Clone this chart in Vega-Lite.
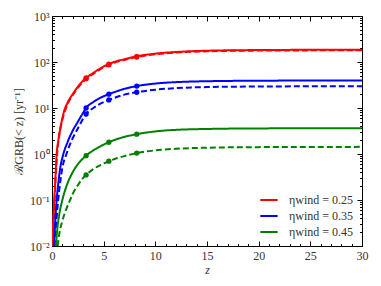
{
  "$schema": "https://vega.github.io/schema/vega-lite/v6.json",
  "autosize": "none",
  "width": 310,
  "height": 230,
  "padding": {"left": 52, "top": 16, "right": 19, "bottom": 40},
  "background": "white",
  "config": {
    "view": {"stroke": "black", "strokeWidth": 1},
    "font": "Liberation Serif",
    "axis": {"domainColor": "black", "tickColor": "black", "labelColor": "#333", "labelFont": "Liberation Serif", "labelFontSize": 12, "grid": false, "titleFont": "Liberation Serif", "titleFontWeight": "normal", "titleColor": "#333"},
    "legend": {"labelFont": "Liberation Serif", "labelFontSize": 12, "labelColor": "#333"}
  },
  "datasets": {
    "curves": [
      {"z": 0.05, "R": 0.01, "eta": "0.25", "kind": "solid"},
      {"z": 0.1, "R": 0.025, "eta": "0.25", "kind": "solid"},
      {"z": 0.22, "R": 0.1, "eta": "0.25", "kind": "solid"},
      {"z": 0.3, "R": 0.22, "eta": "0.25", "kind": "solid"},
      {"z": 0.45, "R": 1.0, "eta": "0.25", "kind": "solid"},
      {"z": 0.6, "R": 1.9, "eta": "0.25", "kind": "solid"},
      {"z": 0.8, "R": 3.6, "eta": "0.25", "kind": "solid"},
      {"z": 1.0, "R": 6, "eta": "0.25", "kind": "solid"},
      {"z": 1.2, "R": 9, "eta": "0.25", "kind": "solid"},
      {"z": 1.5, "R": 13, "eta": "0.25", "kind": "solid"},
      {"z": 2.0, "R": 20, "eta": "0.25", "kind": "solid"},
      {"z": 2.5, "R": 29, "eta": "0.25", "kind": "solid"},
      {"z": 3.0, "R": 39, "eta": "0.25", "kind": "solid"},
      {"z": 3.3, "R": 45, "eta": "0.25", "kind": "solid"},
      {"z": 4.0, "R": 58, "eta": "0.25", "kind": "solid"},
      {"z": 5.0, "R": 80, "eta": "0.25", "kind": "solid"},
      {"z": 5.5, "R": 90, "eta": "0.25", "kind": "solid"},
      {"z": 6.0, "R": 100, "eta": "0.25", "kind": "solid"},
      {"z": 7.0, "R": 115, "eta": "0.25", "kind": "solid"},
      {"z": 8.2, "R": 133, "eta": "0.25", "kind": "solid"},
      {"z": 10, "R": 152, "eta": "0.25", "kind": "solid"},
      {"z": 12, "R": 165, "eta": "0.25", "kind": "solid"},
      {"z": 15, "R": 176, "eta": "0.25", "kind": "solid"},
      {"z": 20, "R": 182, "eta": "0.25", "kind": "solid"},
      {"z": 25, "R": 184, "eta": "0.25", "kind": "solid"},
      {"z": 30, "R": 185, "eta": "0.25", "kind": "solid"},

      {"z": 0.07, "R": 0.01, "eta": "0.25", "kind": "dashed"},
      {"z": 0.25, "R": 0.1, "eta": "0.25", "kind": "dashed"},
      {"z": 0.5, "R": 1.0, "eta": "0.25", "kind": "dashed"},
      {"z": 0.75, "R": 3.0, "eta": "0.25", "kind": "dashed"},
      {"z": 1.0, "R": 5.5, "eta": "0.25", "kind": "dashed"},
      {"z": 1.5, "R": 12, "eta": "0.25", "kind": "dashed"},
      {"z": 2.0, "R": 19, "eta": "0.25", "kind": "dashed"},
      {"z": 2.5, "R": 27.5, "eta": "0.25", "kind": "dashed"},
      {"z": 3.0, "R": 37, "eta": "0.25", "kind": "dashed"},
      {"z": 3.3, "R": 43, "eta": "0.25", "kind": "dashed"},
      {"z": 4.0, "R": 55, "eta": "0.25", "kind": "dashed"},
      {"z": 5.0, "R": 77, "eta": "0.25", "kind": "dashed"},
      {"z": 5.5, "R": 87, "eta": "0.25", "kind": "dashed"},
      {"z": 6.0, "R": 96, "eta": "0.25", "kind": "dashed"},
      {"z": 7.0, "R": 111, "eta": "0.25", "kind": "dashed"},
      {"z": 8.2, "R": 128, "eta": "0.25", "kind": "dashed"},
      {"z": 10, "R": 147, "eta": "0.25", "kind": "dashed"},
      {"z": 12, "R": 160, "eta": "0.25", "kind": "dashed"},
      {"z": 15, "R": 171, "eta": "0.25", "kind": "dashed"},
      {"z": 20, "R": 177, "eta": "0.25", "kind": "dashed"},
      {"z": 25, "R": 179, "eta": "0.25", "kind": "dashed"},
      {"z": 30, "R": 180, "eta": "0.25", "kind": "dashed"},

      {"z": 0.2, "R": 0.01, "eta": "0.35", "kind": "solid"},
      {"z": 0.3, "R": 0.03, "eta": "0.35", "kind": "solid"},
      {"z": 0.45, "R": 0.1, "eta": "0.35", "kind": "solid"},
      {"z": 0.6, "R": 0.22, "eta": "0.35", "kind": "solid"},
      {"z": 0.8, "R": 0.5, "eta": "0.35", "kind": "solid"},
      {"z": 1.1, "R": 1.0, "eta": "0.35", "kind": "solid"},
      {"z": 1.5, "R": 1.8, "eta": "0.35", "kind": "solid"},
      {"z": 2.0, "R": 3.2, "eta": "0.35", "kind": "solid"},
      {"z": 2.5, "R": 5.0, "eta": "0.35", "kind": "solid"},
      {"z": 3.0, "R": 7.8, "eta": "0.35", "kind": "solid"},
      {"z": 3.3, "R": 10, "eta": "0.35", "kind": "solid"},
      {"z": 4.0, "R": 13.5, "eta": "0.35", "kind": "solid"},
      {"z": 5.0, "R": 18, "eta": "0.35", "kind": "solid"},
      {"z": 5.5, "R": 20, "eta": "0.35", "kind": "solid"},
      {"z": 6.0, "R": 22, "eta": "0.35", "kind": "solid"},
      {"z": 7.0, "R": 26, "eta": "0.35", "kind": "solid"},
      {"z": 8.2, "R": 30, "eta": "0.35", "kind": "solid"},
      {"z": 10, "R": 34, "eta": "0.35", "kind": "solid"},
      {"z": 12, "R": 36.5, "eta": "0.35", "kind": "solid"},
      {"z": 15, "R": 38.2, "eta": "0.35", "kind": "solid"},
      {"z": 20, "R": 39.2, "eta": "0.35", "kind": "solid"},
      {"z": 25, "R": 39.5, "eta": "0.35", "kind": "solid"},
      {"z": 30, "R": 39.6, "eta": "0.35", "kind": "solid"},

      {"z": 0.3, "R": 0.01, "eta": "0.35", "kind": "dashed"},
      {"z": 0.45, "R": 0.04, "eta": "0.35", "kind": "dashed"},
      {"z": 0.6, "R": 0.1, "eta": "0.35", "kind": "dashed"},
      {"z": 0.8, "R": 0.25, "eta": "0.35", "kind": "dashed"},
      {"z": 1.0, "R": 0.5, "eta": "0.35", "kind": "dashed"},
      {"z": 1.4, "R": 1.0, "eta": "0.35", "kind": "dashed"},
      {"z": 2.0, "R": 2.2, "eta": "0.35", "kind": "dashed"},
      {"z": 2.5, "R": 3.6, "eta": "0.35", "kind": "dashed"},
      {"z": 3.0, "R": 5.8, "eta": "0.35", "kind": "dashed"},
      {"z": 3.3, "R": 7.4, "eta": "0.35", "kind": "dashed"},
      {"z": 4.0, "R": 10, "eta": "0.35", "kind": "dashed"},
      {"z": 5.0, "R": 13.5, "eta": "0.35", "kind": "dashed"},
      {"z": 5.5, "R": 15, "eta": "0.35", "kind": "dashed"},
      {"z": 6.0, "R": 16.5, "eta": "0.35", "kind": "dashed"},
      {"z": 7.0, "R": 19.5, "eta": "0.35", "kind": "dashed"},
      {"z": 8.2, "R": 22, "eta": "0.35", "kind": "dashed"},
      {"z": 10, "R": 25, "eta": "0.35", "kind": "dashed"},
      {"z": 12, "R": 27, "eta": "0.35", "kind": "dashed"},
      {"z": 15, "R": 28.5, "eta": "0.35", "kind": "dashed"},
      {"z": 20, "R": 29.3, "eta": "0.35", "kind": "dashed"},
      {"z": 25, "R": 29.6, "eta": "0.35", "kind": "dashed"},
      {"z": 30, "R": 29.7, "eta": "0.35", "kind": "dashed"},

      {"z": 0.38, "R": 0.01, "eta": "0.45", "kind": "solid"},
      {"z": 0.5, "R": 0.022, "eta": "0.45", "kind": "solid"},
      {"z": 0.7, "R": 0.048, "eta": "0.45", "kind": "solid"},
      {"z": 1.0, "R": 0.1, "eta": "0.45", "kind": "solid"},
      {"z": 1.5, "R": 0.23, "eta": "0.45", "kind": "solid"},
      {"z": 2.0, "R": 0.4, "eta": "0.45", "kind": "solid"},
      {"z": 2.5, "R": 0.6, "eta": "0.45", "kind": "solid"},
      {"z": 3.0, "R": 0.8, "eta": "0.45", "kind": "solid"},
      {"z": 3.3, "R": 0.92, "eta": "0.45", "kind": "solid"},
      {"z": 4.0, "R": 1.2, "eta": "0.45", "kind": "solid"},
      {"z": 5.0, "R": 1.6, "eta": "0.45", "kind": "solid"},
      {"z": 5.5, "R": 1.8, "eta": "0.45", "kind": "solid"},
      {"z": 6.0, "R": 2.0, "eta": "0.45", "kind": "solid"},
      {"z": 7.0, "R": 2.35, "eta": "0.45", "kind": "solid"},
      {"z": 8.2, "R": 2.7, "eta": "0.45", "kind": "solid"},
      {"z": 10, "R": 3.1, "eta": "0.45", "kind": "solid"},
      {"z": 12, "R": 3.35, "eta": "0.45", "kind": "solid"},
      {"z": 15, "R": 3.5, "eta": "0.45", "kind": "solid"},
      {"z": 20, "R": 3.6, "eta": "0.45", "kind": "solid"},
      {"z": 25, "R": 3.62, "eta": "0.45", "kind": "solid"},
      {"z": 30, "R": 3.63, "eta": "0.45", "kind": "solid"},

      {"z": 0.55, "R": 0.01, "eta": "0.45", "kind": "dashed"},
      {"z": 0.7, "R": 0.018, "eta": "0.45", "kind": "dashed"},
      {"z": 1.0, "R": 0.035, "eta": "0.45", "kind": "dashed"},
      {"z": 1.4, "R": 0.065, "eta": "0.45", "kind": "dashed"},
      {"z": 1.75, "R": 0.1, "eta": "0.45", "kind": "dashed"},
      {"z": 2.0, "R": 0.135, "eta": "0.45", "kind": "dashed"},
      {"z": 2.5, "R": 0.21, "eta": "0.45", "kind": "dashed"},
      {"z": 3.0, "R": 0.3, "eta": "0.45", "kind": "dashed"},
      {"z": 3.3, "R": 0.35, "eta": "0.45", "kind": "dashed"},
      {"z": 4.0, "R": 0.47, "eta": "0.45", "kind": "dashed"},
      {"z": 5.0, "R": 0.62, "eta": "0.45", "kind": "dashed"},
      {"z": 5.5, "R": 0.7, "eta": "0.45", "kind": "dashed"},
      {"z": 6.0, "R": 0.77, "eta": "0.45", "kind": "dashed"},
      {"z": 7.0, "R": 0.9, "eta": "0.45", "kind": "dashed"},
      {"z": 8.2, "R": 1.05, "eta": "0.45", "kind": "dashed"},
      {"z": 10, "R": 1.2, "eta": "0.45", "kind": "dashed"},
      {"z": 12, "R": 1.3, "eta": "0.45", "kind": "dashed"},
      {"z": 15, "R": 1.37, "eta": "0.45", "kind": "dashed"},
      {"z": 20, "R": 1.41, "eta": "0.45", "kind": "dashed"},
      {"z": 25, "R": 1.42, "eta": "0.45", "kind": "dashed"},
      {"z": 30, "R": 1.43, "eta": "0.45", "kind": "dashed"}
    ],
    "markers": [
      {"z": 3.3, "R": 45, "eta": "0.25"},
      {"z": 5.5, "R": 90, "eta": "0.25"},
      {"z": 8.2, "R": 133, "eta": "0.25"},
      {"z": 3.3, "R": 43, "eta": "0.25"},
      {"z": 5.5, "R": 87, "eta": "0.25"},
      {"z": 8.2, "R": 128, "eta": "0.25"},
      {"z": 3.3, "R": 10, "eta": "0.35"},
      {"z": 5.5, "R": 20, "eta": "0.35"},
      {"z": 8.2, "R": 30, "eta": "0.35"},
      {"z": 3.3, "R": 7.4, "eta": "0.35"},
      {"z": 5.5, "R": 15, "eta": "0.35"},
      {"z": 8.2, "R": 22, "eta": "0.35"},
      {"z": 3.3, "R": 0.92, "eta": "0.45"},
      {"z": 5.5, "R": 1.8, "eta": "0.45"},
      {"z": 8.2, "R": 2.7, "eta": "0.45"},
      {"z": 3.3, "R": 0.35, "eta": "0.45"},
      {"z": 5.5, "R": 0.7, "eta": "0.45"},
      {"z": 8.2, "R": 1.05, "eta": "0.45"}
    ]
  },
  "layer": [
    {
      "data": {"name": "curves"},
      "mark": {"type": "line", "strokeWidth": 2, "clip": true, "interpolate": "monotone"},
      "encoding": {
        "x": {"field": "z", "type": "quantitative", "scale": {"domain": [0, 30], "nice": false},
          "axis": {"orient": "bottom", "values": [0,1,2,3,4,5,6,7,8,9,10,11,12,13,14,15,16,17,18,19,20,21,22,23,24,25,26,27,28,29,30],
            "labelExpr": "datum.value % 5 == 0 ? datum.label : ''",
            "tickSize": {"condition": {"test": "datum.value % 5 == 0", "value": -5}, "value": -2.5},
            "labelPadding": 9, "labelFlush": false,
            "title": "z", "titleFontStyle": "italic", "titleFontSize": 12, "titlePadding": 3}},
        "y": {"field": "R", "type": "quantitative", "scale": {"type": "log", "domain": [0.01, 1000], "nice": false},
          "axis": {"orient": "left",
            "values": [0.01,0.02,0.03,0.04,0.05,0.06,0.07,0.08,0.09,0.1,0.2,0.3,0.4,0.5,0.6,0.7,0.8,0.9,1,2,3,4,5,6,7,8,9,10,20,30,40,50,60,70,80,90,100,200,300,400,500,600,700,800,900,1000],
            "labelExpr": "datum.value == 0.01 ? '10⁻²' : datum.value == 0.1 ? '10⁻¹' : datum.value == 1 ? '10⁰' : datum.value == 10 ? '10¹' : datum.value == 100 ? '10²' : datum.value == 1000 ? '10³' : ''",
            "tickSize": {"condition": {"test": "datum.value == 0.01 || datum.value == 0.1 || datum.value == 1 || datum.value == 10 || datum.value == 100 || datum.value == 1000", "value": -5}, "value": -2.5},
            "labelPadding": 8, "labelFlush": false,
            "title": "ℛGRB(< z) [yr⁻¹]", "titleFontSize": 12, "titlePadding": 4}},
        "color": {"field": "eta", "type": "nominal",
          "scale": {"domain": ["0.25", "0.35", "0.45"], "range": ["#ff0000", "#0000ff", "#008000"]},
          "legend": {"title": null, "orient": "bottom-right", "offset": 8, "symbolType": "stroke", "symbolStrokeWidth": 2, "symbolSize": 300, "rowPadding": 0, "labelOffset": 10, "labelExpr": "'ηwind = ' + datum.label"}},
        "strokeDash": {"field": "kind", "type": "nominal", "scale": {"domain": ["solid", "dashed"], "range": [[1, 0], [6, 3]]}, "legend": null},
        "detail": {"field": "kind"}
      }
    },
    {
      "data": {"name": "markers"},
      "mark": {"type": "circle", "size": 28, "opacity": 1},
      "encoding": {
        "x": {"field": "z", "type": "quantitative",
          "axis": {"orient": "top", "values": [0,1,2,3,4,5,6,7,8,9,10,11,12,13,14,15,16,17,18,19,20,21,22,23,24,25,26,27,28,29,30], "labels": false, "title": null,
            "tickSize": {"condition": {"test": "datum.value % 5 == 0", "value": -5}, "value": -2.5}}},
        "y": {"field": "R", "type": "quantitative",
          "axis": {"orient": "right", "values": [0.01,0.02,0.03,0.04,0.05,0.06,0.07,0.08,0.09,0.1,0.2,0.3,0.4,0.5,0.6,0.7,0.8,0.9,1,2,3,4,5,6,7,8,9,10,20,30,40,50,60,70,80,90,100,200,300,400,500,600,700,800,900,1000], "labels": false, "title": null,
            "tickSize": {"condition": {"test": "datum.value == 0.01 || datum.value == 0.1 || datum.value == 1 || datum.value == 10 || datum.value == 100 || datum.value == 1000", "value": -5}, "value": -2.5}}},
        "fill": {"field": "eta", "type": "nominal",
          "scale": {"domain": ["0.25", "0.35", "0.45"], "range": ["#ff0000", "#0000ff", "#008000"]}, "legend": null}
      }
    }
  ],
  "resolve": {"axis": {"x": "independent", "y": "independent"}, "scale": {"fill": "independent"}}
}
